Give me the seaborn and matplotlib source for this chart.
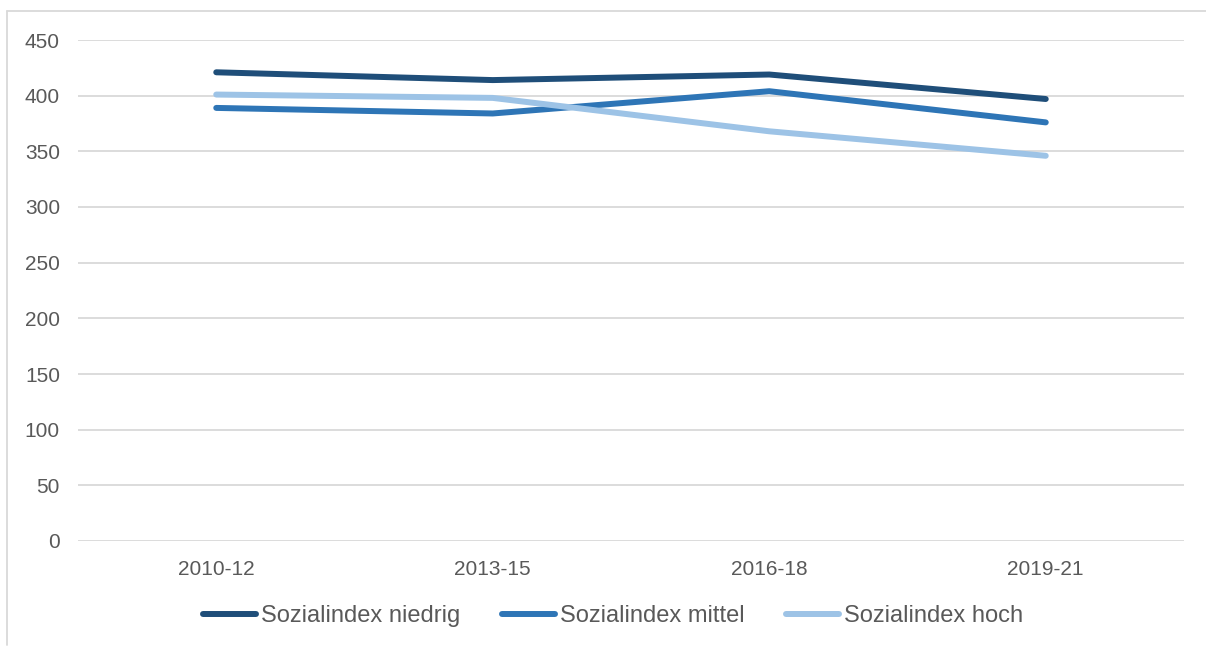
import matplotlib
matplotlib.use("Agg")
import matplotlib.pyplot as plt
from matplotlib.lines import Line2D
import pandas as pd
import seaborn as sns

# Zeiträume und Werte je Sozialindex-Gruppe
periods = ["2010-12", "2013-15", "2016-18", "2019-21"]
niedrig = [421, 414, 419, 397]
mittel = [389, 384, 404, 376]
hoch = [401, 398, 368, 346]
series_names = ["Sozialindex niedrig", "Sozialindex mittel", "Sozialindex hoch"]
y_ticks = [0, 50, 100, 150, 200, 250, 300, 350, 400, 450]

colors = ["#1F4E79", "#2E75B6", "#9DC3E6"]
text_color = "#595959"
grid_color = "#D9D9D9"

sns.set_theme(style="white")
plt.rcParams["font.family"] = ["Liberation Sans", "DejaVu Sans"]

W, H = 1206, 646
fig = plt.figure(figsize=(W / 100, H / 100), dpi=100)
ax = fig.add_axes([78 / W, 1 - 541 / H, (1184 - 78) / W, (541 - 40) / H])

df = pd.DataFrame({
    "period": periods * 3,
    "value": niedrig + mittel + hoch,
    "series": [series_names[0]] * 4 + [series_names[1]] * 4 + [series_names[2]] * 4,
})
df["x"] = df["period"].map({p: i for i, p in enumerate(periods)})

sns.lineplot(data=df, x="x", y="value", hue="series", hue_order=series_names,
             palette=colors, linewidth=4.3, ax=ax, legend=False, sort=False,
             solid_capstyle="round", solid_joinstyle="round", zorder=3)

ax.set_xlim(-0.5, len(periods) - 0.5)
ax.set_ylim(0, 450)
ax.set_xticks(range(len(periods)))
ax.set_xticklabels(periods)
ax.set_yticks(y_ticks)
ax.set_yticklabels([str(v) for v in y_ticks])
ax.set_xlabel("")
ax.set_ylabel("")
ax.grid(axis="y", color=grid_color, linewidth=1.3, zorder=0)
ax.set_axisbelow(True)
for s in ax.spines.values():
    s.set_visible(False)
ax.tick_params(axis="both", length=0, labelsize=15, labelcolor=text_color)
ax.tick_params(axis="y", pad=13)
ax.tick_params(axis="x", pad=14)

handles = [Line2D([0], [0], color=c, linewidth=4.3, solid_capstyle="round") for c in colors]
fig.legend(handles, series_names, loc="center", bbox_to_anchor=(613 / W, 1 - 616 / H),
           ncol=3, frameon=False, fontsize=17, labelcolor=text_color,
           handlelength=2.25, handletextpad=0.22, columnspacing=1.75)

# Rahmen des Diagrammbereichs (oben und links)
fig.add_artist(Line2D([7 / W, 1], [1 - 10.5 / H, 1 - 10.5 / H],
                      color=grid_color, linewidth=1.3, transform=fig.transFigure))
fig.add_artist(Line2D([7 / W, 7 / W], [1 - 10.5 / H, 1 / H],
                      color=grid_color, linewidth=1.3, transform=fig.transFigure))

fig.savefig("out.png", dpi=100, facecolor="white")
